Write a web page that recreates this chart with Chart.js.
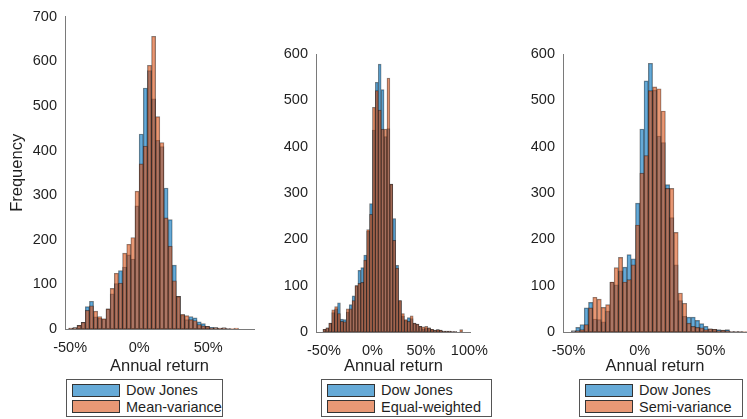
<!DOCTYPE html>
<html>
<head>
<meta charset="utf-8">
<script src="https://cdn.jsdelivr.net/npm/chart.js@4.4.1/dist/chart.umd.min.js"></script>
<style>
    body { margin: 0; width: 747px; height: 419px; background: #fff; position: relative; overflow: hidden;
           font-family: "Liberation Sans", Arial, sans-serif; color: #1f1f1f; }
    canvas { position: absolute; top: 0; }
    .legend { position: absolute; top: 379px; height: 38px; border: 1px solid #555; background: #fff;
              box-sizing: border-box; padding: 2px 0 0 5px; font-size: 14.5px; }
    .legend .row { display: flex; align-items: center; height: 16.5px; }
    .legend .sw { width: 46px; height: 11px; border: 1px solid #333; margin-right: 6px; }
</style>
</head>
<body>
<canvas id="hist1" width="262" height="376" style="left:0px"></canvas>
<canvas id="hist2" width="230" height="376" style="left:268px"></canvas>
<canvas id="hist3" width="232" height="376" style="left:515px"></canvas>
<div class="legend" id="leg1" style="left:66px;width:157px"></div>
<div class="legend" id="leg2" style="left:321px;width:171px"></div>
<div class="legend" id="leg3" style="left:579px;width:164px"></div>

<script>
// Series names
var benchmarkName = 'Dow Jones';
var strategyNames = ['Mean-variance', 'Equal-weighted', 'Semi-variance'];

// Left edges of the 3% bins (annual return, %)
var binEdges1 = [-51, -48, -45, -42, -39, -36, -33, -30, -27, -24, -21, -18, -15, -12, -9, -6, -3,
    0, 3, 6, 9, 12, 15, 18, 21, 24, 27, 30, 33, 36, 39, 42, 45, 48, 51, 54, 57, 60, 63, 66, 69];
var binEdges2 = [-51, -48, -45, -42, -39, -36, -33, -30, -27, -24, -21, -18, -15, -12, -9, -6, -3,
    0, 3, 6, 9, 12, 15, 18, 21, 24, 27, 30, 33, 36, 39, 42, 45, 48, 51, 54, 57, 60, 63, 66, 69,
    72, 75, 78, 81, 84, 87, 90];
var binEdges3 = [-48, -45, -42, -39, -36, -33, -30, -27, -24, -21, -18, -15, -12, -9, -6, -3,
    0, 3, 6, 9, 12, 15, 18, 21, 24, 27, 30, 33, 36, 39, 42, 45, 48, 51, 54, 57, 60, 63, 66, 69, 72];

// Frequencies per bin
var dowJones1 = [2, 3, 8, 15, 50, 62, 27, 24, 23, 45, 79, 102, 131, 139, 166, 157, 276, 437, 540, 579,
    516, 423, 409, 316, 245, 143, 73, 31, 21, 28, 25, 16, 12, 6, 4, 3, 2, 3, 1, 0, 0];
var meanVariance = [2, 3, 8, 15, 42, 52, 40, 28, 23, 45, 91, 125, 103, 170, 190, 205, 309, 370, 410, 591,
    656, 476, 418, 249, 186, 108, 73, 33, 30, 21, 19, 10, 7, 6, 2, 3, 2, 2, 1, 1, 2];

var dowJones2 = [6, 9, 19, 42, 50, 63, 28, 27, 43, 59, 78, 100, 133, 139, 166, 218, 277, 436, 539, 578,
    523, 422, 439, 319, 245, 144, 68, 34, 25, 31, 29, 19, 17, 12, 7, 8, 9, 6, 4, 5, 4, 2, 2, 2, 1, 1, 0, 0];
var equalWeighted = [6, 9, 19, 48, 55, 40, 23, 22, 50, 50, 68, 100, 105, 107, 155, 221, 254, 485, 521, 479,
    438, 438, 548, 319, 198, 138, 68, 40, 27, 23, 35, 19, 17, 12, 11, 12, 9, 6, 4, 5, 4, 2, 2, 2, 1, 1, 0, 5];

var dowJones3 = [3, 10, 16, 52, 64, 28, 27, 22, 45, 108, 102, 132, 140, 167, 158, 278, 438, 542, 580, 522,
    423, 409, 318, 247, 145, 68, 34, 32, 32, 25, 18, 12, 7, 6, 5, 4, 5, 1, 1, 1, 0];
var semiVariance = [1, 3, 5, 16, 52, 75, 71, 53, 59, 108, 139, 161, 108, 113, 145, 231, 343, 381, 521, 529,
    525, 477, 310, 310, 215, 84, 62, 19, 12, 10, 9, 5, 7, 6, 3, 4, 3, 1, 1, 1, 1];

var binWidth = 3;

// x tick labels per panel
var xTicks1 = [-50, 0, 50];
var xTicks2 = [-50, 0, 50, 100];
var xTicks3 = [-50, 0, 50];

// MATLAB default colours with FaceAlpha 0.6
var blueFill = 'rgba(0, 114, 189, 0.6)';
var orangeFill = 'rgba(217, 83, 25, 0.6)';
var edgeColor = 'rgba(0, 0, 0, 0.5)';
var axisColor = '#7a7a7a';
var textColor = '#1f1f1f';
var fontFamily = '"Liberation Sans", Arial, sans-serif';

function toPoints(edges, counts) {
    return edges.map(function (e, i) {
        return { x: e + binWidth / 2, y: counts[i] };
    });
}

function makeHistogram(id, edges, dj, strat, stratName, xr, ticks, yMax, box) {
    var ctx = document.getElementById(id).getContext('2d');
    return new Chart(ctx, {
        type: 'bar',
        data: {
            datasets: [{
                label: benchmarkName,
                data: toPoints(edges, dj),
                backgroundColor: blueFill,
                order: 2
            }, {
                label: stratName,
                data: toPoints(edges, strat),
                backgroundColor: orangeFill,
                order: 1
            }]
        },
        options: {
            responsive: false,
            animation: false,
            datasets: {
                bar: {
                    grouped: false,
                    barPercentage: 1,
                    categoryPercentage: 1,
                    borderColor: edgeColor,
                    borderWidth: 0.7,
                    borderSkipped: false
                }
            },
            layout: { padding: { top: box.top, right: box.right, left: 0, bottom: 0 } },
            plugins: { legend: { display: false }, tooltip: { enabled: false } },
            scales: {
                x: {
                    type: 'linear',
                    min: xr[0],
                    max: xr[1],
                    offset: false,
                    grid: { display: false, drawTicks: false },
                    border: { display: true, color: axisColor, width: 1 },
                    afterBuildTicks: function (s) {
                        s.ticks = ticks.map(function (v) { return { value: v }; });
                    },
                    afterFit: function (s) { s.height = box.xh; },
                    ticks: {
                        padding: 10,
                        maxRotation: 0,
                        color: textColor,
                        font: { family: fontFamily, size: 14.5 },
                        callback: function (v) { return v + '%'; }
                    },
                    title: {
                        display: true,
                        text: 'Annual return',
                        color: textColor,
                        padding: { top: 0, bottom: 0 },
                        font: { family: fontFamily, size: 16.5 }
                    }
                },
                y: {
                    min: 0,
                    max: yMax,
                    grid: { display: false, drawTicks: false },
                    border: { display: true, color: axisColor, width: 1 },
                    afterFit: function (s) { s.width = box.yw; },
                    ticks: {
                        stepSize: 100,
                        padding: 8,
                        color: textColor,
                        font: { family: fontFamily, size: 14.5 }
                    },
                    title: {
                        display: box.yTitle,
                        text: 'Frequency',
                        color: textColor,
                        padding: { top: 8, bottom: 0 },
                        font: { family: fontFamily, size: 16.5 }
                    }
                }
            }
        }
    });
}

makeHistogram('hist1', binEdges1, dowJones1, meanVariance, strategyNames[0], [-53.7, 83.2], xTicks1, 700,
    { top: 15, right: 8, xh: 47, yw: 65, yTitle: true });
makeHistogram('hist2', binEdges2, dowJones2, equalWeighted, strategyNames[1], [-58.2, 101.5], xTicks2, 600,
    { top: 54, right: 6, xh: 44, yw: 48, yTitle: false });
makeHistogram('hist3', binEdges3, dowJones3, semiVariance, strategyNames[2], [-53.9, 75.3], xTicks3, 600,
    { top: 54, right: 0, xh: 44, yw: 48, yTitle: false });

// Legends below each panel
function buildLegend(id, stratName) {
    var el = document.getElementById(id);
    [[benchmarkName, blueFill], [stratName, orangeFill]].forEach(function (item) {
        var row = document.createElement('div');
        row.className = 'row';
        var sw = document.createElement('span');
        sw.className = 'sw';
        sw.style.background = item[1];
        row.appendChild(sw);
        row.appendChild(document.createTextNode(item[0]));
        el.appendChild(row);
    });
}
buildLegend('leg1', strategyNames[0]);
buildLegend('leg2', strategyNames[1]);
buildLegend('leg3', strategyNames[2]);
</script>
</body>
</html>
